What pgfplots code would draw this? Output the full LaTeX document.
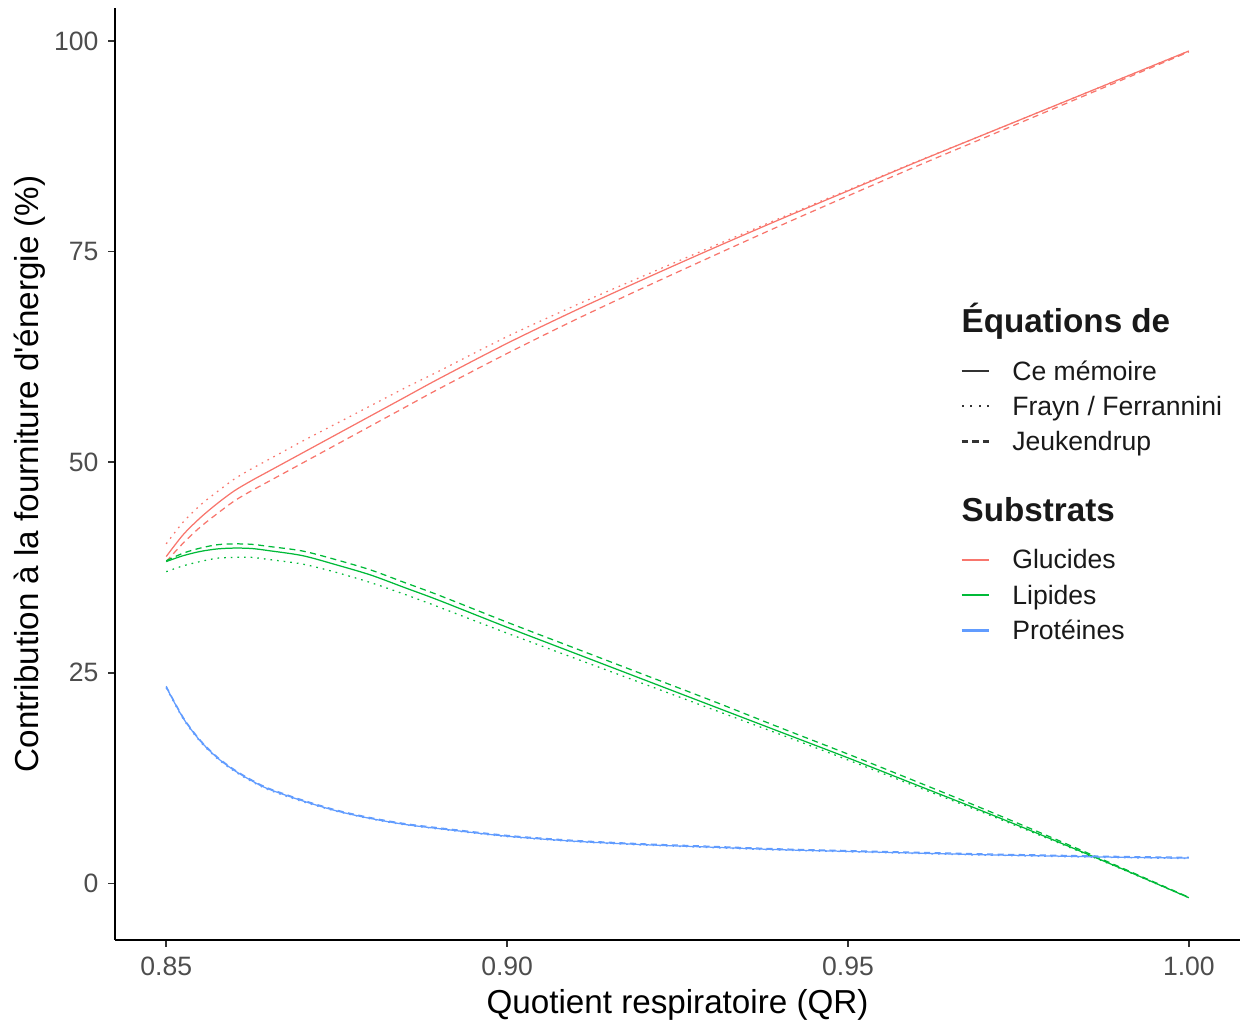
\documentclass[border=0pt]{standalone}
\usepackage{fontspec}
\setmainfont{Liberation Sans}
\usepackage{pgfplots}
\pgfplotsset{compat=1.18}
\usepackage{pgfplotstable}

\definecolor{cGluc}{HTML}{F8766D}
\definecolor{cLip}{HTML}{00BA38}
\definecolor{cProt}{HTML}{619CFF}
\definecolor{tickgray}{HTML}{333333}
\definecolor{labgray}{HTML}{4D4D4D}
\definecolor{keygray}{HTML}{333333}

% Energy contribution (%) vs respiratory quotient, for three sets of equations
\pgfplotstableread{
x      ce     frayn  jeuk
0.850  38.8   40.3   38.2
0.8525 41.4   42.9   40.4
0.855  43.4   44.9   42.3
0.8575 45.1   46.5   43.9
0.860  46.6   48.0   45.4
0.8625 47.8   49.2   46.6
0.865  48.9   50.3   47.7
0.870  51.1   52.5   49.9
0.875  53.3   54.6   52.1
0.880  55.5   56.7   54.3
0.885  57.7   58.8   56.5
0.890  59.9   60.8   58.7
0.900  64.1   64.9   62.9
0.910  68.0   68.6   66.9
0.920  71.7   72.1   70.7
0.930  75.3   75.55  74.4
0.940  78.8   78.95  78.05
0.950  82.2   82.3   81.6
0.960  85.6   85.65  85.1
0.970  88.9   88.9   88.5
0.980  92.2   92.2   91.9
0.990  95.5   95.5   95.3
1.000  98.8   98.8   98.7
}\glucides

\pgfplotstableread{
x      ce     frayn  jeuk
0.850  38.2   37.0   38.3
0.8525 38.9   37.7   39.2
0.855  39.4   38.2   39.8
0.8575 39.7   38.6   40.2
0.860  39.8   38.7   40.3
0.8625 39.75  38.7   40.25
0.865  39.5   38.45  40.0
0.870  38.9   37.9   39.45
0.875  37.8   36.9   38.4
0.880  36.6   35.7   37.2
0.885  35.1   34.3   35.7
0.890  33.6   32.8   34.2
0.900  30.4   29.7   31.0
0.910  27.3   26.7   27.9
0.920  24.2   23.7   24.8
0.930  21.1   20.7   21.7
0.940  18.0   17.7   18.5
0.950  14.9   14.65  15.35
0.960  11.7   11.5   12.1
0.970  8.5    8.35   8.8
0.980  5.2    5.1    5.4
0.990  1.8    1.75   1.9
1.000  -1.7   -1.7   -1.65
}\lipides

\pgfplotstableread{
x      ce     frayn  jeuk
0.850  23.3   23.2   23.4
0.8525 19.6   19.5   19.7
0.855  16.9   16.8   17.0
0.8575 14.9   14.8   15.0
0.860  13.4   13.3   13.5
0.8625 12.2   12.1   12.3
0.865  11.2   11.1   11.3
0.870  9.8    9.7    9.9
0.875  8.6    8.55   8.7
0.880  7.7    7.65   7.8
0.885  7.0    6.95   7.1
0.890  6.5    6.45   6.6
0.900  5.6    5.55   5.7
0.910  5.0    4.95   5.1
0.920  4.6    4.55   4.7
0.930  4.3    4.25   4.4
0.940  4.0    3.95   4.1
0.950  3.8    3.75   3.9
0.960  3.6    3.55   3.7
0.970  3.4    3.35   3.5
0.980  3.25   3.2    3.35
0.990  3.1    3.05   3.2
1.000  3.0    2.95   3.1
}\proteines

\tikzset{
  eqce/.style={solid},
  eqfrayn/.style={dash pattern=on 0.6pt off 1.8pt},
  eqjeuk/.style={dash pattern=on 2.2pt off 1.6pt},
}

% legend helpers: keys built from rules, 10pt long, centred on the text
\newcommand{\itemstrut}{\rule[-3.0pt]{0pt}{12.8pt}}
\newcommand{\keyrule}[1]{\rule{#1}{0.75pt}}
\newcommand{\keysolid}[1]{\textcolor{#1}{\raisebox{3.0pt}{\keyrule{10pt}}}}
\newcommand{\keydotted}[1]{\textcolor{#1}{\raisebox{3.0pt}{%
  \keyrule{0.7pt}\hspace{2.4pt}\keyrule{0.7pt}\hspace{2.4pt}\keyrule{0.7pt}\hspace{2.4pt}\keyrule{0.7pt}}}}
\newcommand{\keydashed}[1]{\textcolor{#1}{\raisebox{3.0pt}{%
  \keyrule{2.4pt}\hspace{1.4pt}\keyrule{2.4pt}\hspace{1.4pt}\keyrule{2.4pt}}}}
\newcommand{\legtitle}[2]{\multicolumn{2}{@{}l@{}}{\fontsize{12}{14}\selectfont\bfseries #1#2}}

\begin{document}
\begin{tikzpicture}
\begin{axis}[
  scale only axis, width=406.6pt, height=336.8pt,
  xmin=0.8425, xmax=1.0075, ymin=-6.7, ymax=103.9,
  axis lines=left,
  axis line style={-, black, line width=0.6pt},
  xtick={0.85,0.90,0.95,1.00}, xticklabels={0.85,0.90,0.95,1.00},
  ytick={0,25,50,75,100}, yticklabels={0,25,50,75,100},
  tick align=outside, major tick length=2.5pt,
  every tick/.style={tickgray, line width=0.6pt},
  tick label style={font=\fontsize{9.6}{11}\selectfont, text=labgray},
  /pgf/number format/assume math mode=true,
  xlabel={Quotient respiratoire (QR)},
  ylabel={Contribution à la fourniture d\textquotesingle énergie (\%)},
  label style={font=\fontsize{12}{14}\selectfont, text=black},
  xlabel style={at={(axis description cs:0.5,-0.0698)}, anchor=center},
  ylabel style={at={(axis description cs:-0.0755,0.5)}, anchor=center},
  clip=false,
]
\pgfplotsset{every axis plot/.append style={line width=0.45pt, smooth, tension=0.5}}
\addplot[cGluc, eqce]    table[x=x, y=ce]    {\glucides};
\addplot[cGluc, eqfrayn] table[x=x, y=frayn] {\glucides};
\addplot[cGluc, eqjeuk]  table[x=x, y=jeuk]  {\glucides};
\addplot[cLip, eqce]     table[x=x, y=ce]    {\lipides};
\addplot[cLip, eqfrayn]  table[x=x, y=frayn] {\lipides};
\addplot[cLip, eqjeuk]   table[x=x, y=jeuk]  {\lipides};
\addplot[cProt, eqce]    table[x=x, y=ce]    {\proteines};
\addplot[cProt, eqfrayn] table[x=x, y=frayn] {\proteines};
\addplot[cProt, eqjeuk]  table[x=x, y=jeuk]  {\proteines};

\coordinate (SW) at (rel axis cs:0,0);
\coordinate (NE) at (rel axis cs:1,1);
\coordinate (LEG) at (axis cs:0.9666,69.4);
\end{axis}

% legend: equation sets (line type) and substrates (colour)
\node[anchor=north west, inner sep=0pt, font=\fontsize{9.6}{11}\selectfont, text=black!90] at (LEG) {%
  \renewcommand{\arraystretch}{0}%
  \begin{tabular}{@{}l@{\hspace{8.3pt}}l@{}}
    \legtitle{Équations de}{\rule[-7.4pt]{0pt}{19.4pt}}\\
    \keysolid{keygray}  & Ce mémoire\itemstrut\\
    \keydotted{keygray} & Frayn / Ferrannini\itemstrut\\
    \keydashed{keygray} & Jeukendrup\itemstrut\\
    \legtitle{Substrats}{\rule[-7.4pt]{0pt}{29.9pt}}\\
    \keysolid{cGluc} & Glucides\itemstrut\\
    \keysolid{cLip}  & Lipides\itemstrut\\
    \keysolid{cProt} & Protéines\itemstrut\\
  \end{tabular}};

\pgfresetboundingbox
\path[use as bounding box] ([shift={(-41.6pt,-31.1pt)}]SW) rectangle ([shift={(1.8pt,2.9pt)}]NE);
\end{tikzpicture}
\end{document}
